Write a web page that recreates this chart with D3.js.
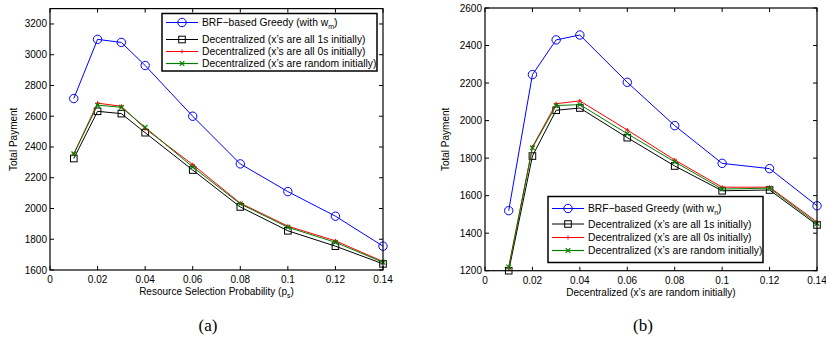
<!DOCTYPE html>
<html><head><meta charset="utf-8">
<script src="https://cdn.jsdelivr.net/npm/d3@7"></script>
<style>body{margin:0;background:#fff}svg{display:block}text{font-family:"Liberation Sans",Arial,sans-serif}text.cap{font-family:"Liberation Serif","Times New Roman",serif}</style>
</head><body>
<script>
const xValues = [0.01,0.02,0.03,0.04,0.06,0.08,0.1,0.12,0.14];
const xTicks = [0,0.02,0.04,0.06,0.08,0.1,0.12,0.14];
const yTicksA = [1600,1800,2000,2200,2400,2600,2800,3000,3200];
const yTicksB = [1200,1400,1600,1800,2000,2200,2400,2600];
const seriesNames = ["BRF\u2212based Greedy (with w","Decentralized (x\u2019s are all 1s initially)","Decentralized (x\u2019s are all 0s initially)","Decentralized (x\u2019s are random initially)"];
const greedyA = [2715,3100,3080,2930,2600,2290,2110,1950,1755];
const ones_A  = [2325,2632,2617,2493,2250,2010,1855,1755,1640];
const zeros_A = [2355,2685,2665,2520,2285,2035,1885,1790,1655];
const rand_A  = [2356,2672,2658,2528,2270,2030,1878,1780,1650];
const greedyB = [1520,2245,2430,2456,2204,1973,1772,1744,1546];
const ones_B  = [1200,1811,2055,2067,1909,1758,1626,1630,1444];
const zeros_B = [1215,1860,2090,2105,1950,1790,1645,1645,1460];
const rand_B  = [1220,1855,2080,2085,1930,1780,1635,1640,1452];

const colors = ["#0000ff","#000000","#ff0000","#008000"];
const markers = ["circle","square","plus","cross"];

const W=826,H=339;
const svg = d3.select("body").append("svg").attr("width",W).attr("height",H);

function marker(g, type, x, y, c){
  if(type==="circle") g.append("circle").attr("cx",x).attr("cy",y).attr("r",4.2).attr("fill","none").attr("stroke",c).attr("stroke-width",1);
  else if(type==="square") g.append("rect").attr("x",x-3.3).attr("y",y-3.3).attr("width",6.6).attr("height",6.6).attr("fill","none").attr("stroke",c).attr("stroke-width",1);
  else if(type==="plus") g.append("path").attr("d",`M${x-2},${y}H${x+2}M${x},${y-2}V${y+2}`).attr("stroke",c).attr("stroke-width",1);
  else g.append("path").attr("d",`M${x-2.3},${y-2.3}L${x+2.3},${y+2.3}M${x-2.3},${y+2.3}L${x+2.3},${y-2.3}`).attr("stroke",c).attr("stroke-width",1.2);
}

function panel(cfg){
  const {x0,x1,y0,y1,yDom,yTicks,series,xlabel,xsub,sub,legend,ylabX,capX} = cfg;
  const x = d3.scaleLinear().domain([0,0.14]).range([x0,x1]);
  const y = d3.scaleLinear().domain(yDom).range([y1,y0]);
  const g = svg.append("g");
  series.forEach((s,i)=>{
    const line = d3.line().x((d,j)=>x(xValues[j])).y(d=>y(d));
    g.append("path").attr("d",line(s)).attr("fill","none").attr("stroke",colors[i]).attr("stroke-width",1);
    s.forEach((d,j)=>marker(g,markers[i],x(xValues[j]),y(d),colors[i]));
  });
  const ax = svg.append("g");
  ax.append("rect").attr("x",x0).attr("y",y0).attr("width",x1-x0).attr("height",y1-y0).attr("fill","none").attr("stroke","#000").attr("stroke-width",1.2);
  const tl=4;
  xTicks.forEach(t=>{
    const px=x(t);
    ax.append("line").attr("x1",px).attr("x2",px).attr("y1",y1).attr("y2",y1-tl).attr("stroke","#000");
    ax.append("line").attr("x1",px).attr("x2",px).attr("y1",y0).attr("y2",y0+tl).attr("stroke","#000");
    ax.append("text").attr("x",px).attr("y",y1+13).attr("text-anchor","middle").attr("font-size",10).text(d3.format("~g")(t));
  });
  yTicks.forEach(t=>{
    const py=y(t);
    ax.append("line").attr("x1",x0).attr("x2",x0+tl).attr("y1",py).attr("y2",py).attr("stroke","#000");
    ax.append("line").attr("x1",x1).attr("x2",x1-tl).attr("y1",py).attr("y2",py).attr("stroke","#000");
    ax.append("text").attr("x",x0-3).attr("y",py+3.5).attr("text-anchor","end").attr("font-size",10).text(t);
  });
  const xl = ax.append("text").attr("x",(x0+x1)/2).attr("y",y1+25).attr("text-anchor","middle").attr("font-size",10);
  xl.append("tspan").text(xlabel);
  if(xsub){ xl.append("tspan").attr("font-size",7).attr("dy",3).text(xsub); xl.append("tspan").attr("dy",-3).text(")"); }
  ax.append("text").attr("transform",`translate(${ylabX},${(y0+y1)/2}) rotate(-90)`).attr("text-anchor","middle").attr("font-size",10).text("Total Payment");
  svg.append("text").attr("class","cap").attr("x",capX).attr("y",331).attr("text-anchor","middle").attr("font-size",17).text(cfg.cap);
  const {lx,ly,lw,lh,rows} = legend;
  const lg = svg.append("g");
  lg.append("rect").attr("x",lx).attr("y",ly).attr("width",lw).attr("height",lh).attr("fill","#fff").attr("stroke","#000").attr("stroke-width",1.5);
  seriesNames.forEach((n,i)=>{
    const ry = ly+rows[i];
    lg.append("line").attr("x1",lx+4).attr("x2",lx+36).attr("y1",ry).attr("y2",ry).attr("stroke",colors[i]).attr("stroke-width",i===3?1.2:1);
    marker(lg,markers[i],lx+20,ry,colors[i]);
    const t = lg.append("text").attr("x",lx+40).attr("y",ry+3.6).attr("font-size",10.3);
    t.append("tspan").text(n);
    if(i===0){ t.append("tspan").attr("font-size",7).attr("dy",3).text(sub); t.append("tspan").attr("dy",-3).text(")"); }
  });
}

panel({x0:50,x1:383,y0:8.6,y1:270,yDom:[1600,3300],yTicks:yTicksA,
  series:[greedyA,ones_A,zeros_A,rand_A],xlabel:"Resource Selection Probability (p",xsub:"s",sub:"m",
  legend:{lx:162,ly:13.5,lw:215,lh:57.5,rows:[9,26,38,50]},ylabX:17,capX:208,cap:"(a)"});
panel({x0:485,x1:817,y0:8,y1:270.7,yDom:[1200,2600],yTicks:yTicksB,
  series:[greedyB,ones_B,zeros_B,rand_B],xlabel:"Decentralized (x\u2019s are random initially)",xsub:null,sub:"n",
  legend:{lx:548,ly:196.5,lw:215,lh:66,rows:[12,27.5,41,54]},ylabX:449,capX:643,cap:"(b)"});
</script>
</body></html>
